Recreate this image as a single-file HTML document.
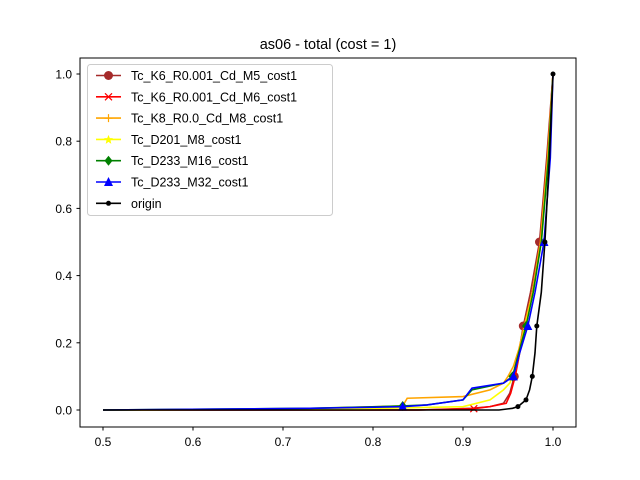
<!DOCTYPE html>
<html><head><meta charset="utf-8"><style>
body{margin:0;background:#fff}svg{display:block;font-family:"Liberation Sans","DejaVu Sans",sans-serif}
</style></head><body>
<svg id="chart" width="640" height="480">
<rect x="0" y="0" width="640" height="480" fill="#fff"/>
<text x="328" y="49" font-size="14.5" text-anchor="middle">as06 - total (cost = 1)</text>
<g id="plot"></g>
<rect x="80" y="58" width="496" height="369" fill="none" stroke="#000" stroke-width="1"/>
<g id="axes"></g>
<g id="legend"></g>
</svg>
<script>
const xTicks=[0.5,0.6,0.7,0.8,0.9,1.0];
const yTicks=[0.0,0.2,0.4,0.6,0.8,1.0];
const seriesNames=["Tc_K6_R0.001_Cd_M5_cost1","Tc_K6_R0.001_Cd_M6_cost1","Tc_K8_R0.0_Cd_M8_cost1","Tc_D201_M8_cost1","Tc_D233_M16_cost1","Tc_D233_M32_cost1","origin"];
const seriesColors=["#a52a2a","#ff0000","#ffa500","#ffff00","#008000","#0000ff","#000000"];
const seriesMarkers=["circle","x","plus","star","diamond","triangle","dot"];
const brownX=[0.5,0.85,0.91,0.93,0.945,0.952,0.957,0.962,0.967,0.975,0.985,0.993,1.0];
const brownY=[0,0,0.005,0.01,0.02,0.05,0.1,0.17,0.25,0.35,0.5,0.75,1.0];
const brownM=[10,8,6];
const redX=[0.5,0.85,0.912,0.93,0.948,0.953,0.958,0.963,0.968,0.977,0.986,0.994,1.0];
const redY=[0,0,0.004,0.01,0.02,0.05,0.1,0.17,0.25,0.35,0.5,0.75,1.0];
const redM=[2];
const orangeX=[0.5,0.7,0.833,0.838,0.9,0.93,0.945,0.95,0.956,0.962,0.968,0.977,0.986,0.994,1.0];
const orangeY=[0,0.002,0.012,0.035,0.04,0.06,0.08,0.1,0.13,0.18,0.25,0.35,0.5,0.75,1.0];
const orangeM=[];
const yellowX=[0.5,0.75,0.9,0.93,0.945,0.952,0.958,0.963,0.969,0.978,0.987,0.995,1.0];
const yellowY=[0,0.002,0.01,0.03,0.06,0.08,0.12,0.17,0.25,0.35,0.5,0.75,1.0];
const yellowM=[];
const greenX=[0.5,0.73,0.833,0.86,0.9,0.91,0.945,0.955,0.962,0.97,0.978,0.987,0.995,1.0];
const greenY=[0,0.005,0.012,0.015,0.03,0.06,0.08,0.1,0.17,0.25,0.35,0.5,0.75,1.0];
const greenM=[2,7,9];
const blueX=[0.5,0.73,0.833,0.86,0.9,0.91,0.945,0.956,0.963,0.972,0.98,0.99,0.997,1.0];
const blueY=[0,0.005,0.01,0.015,0.03,0.065,0.08,0.1,0.17,0.25,0.35,0.5,0.75,1.0];
const blueM=[2,7,9,11];
const originX=[0.5,0.83,0.94,0.955,0.961,0.97,0.974,0.977,0.98,0.982,0.987,0.991,0.996,1.0];
const originY=[0,0,0,0.005,0.01,0.03,0.06,0.1,0.17,0.25,0.35,0.5,0.75,1.0];
const originM=[4,5,7,9,11,13];
const allX=[brownX,redX,orangeX,yellowX,greenX,blueX,originX];
const allY=[brownY,redY,orangeY,yellowY,greenY,blueY,originY];
const allM=[brownM,redM,orangeM,yellowM,greenM,blueM,originM];
const NS="http://www.w3.org/2000/svg";
function sx(v){return 103+(v-0.5)*900;}
function sy(v){return 410-v*336;}
function mk(tag,attrs){const e=document.createElementNS(NS,tag);for(const k in attrs)e.setAttribute(k,attrs[k]);return e;}
function marker(type,x,y,c){
 let e;
 if(type==="circle")e=mk("circle",{cx:x,cy:y,r:4.5,fill:c});
 else if(type==="dot")e=mk("circle",{cx:x,cy:y,r:2.5,fill:c});
 else if(type==="diamond")e=mk("polygon",{points:`${x},${y-5} ${x+4},${y} ${x},${y+5} ${x-4},${y}`,fill:c});
 else if(type==="triangle")e=mk("polygon",{points:`${x},${y-5} ${x+4.5},${y+4} ${x-4.5},${y+4}`,fill:c});
 else if(type==="x")e=mk("path",{d:`M${x-3.5},${y-3.5}L${x+3.5},${y+3.5}M${x-3.5},${y+3.5}L${x+3.5},${y-3.5}`,stroke:c,"stroke-width":1.2,fill:"none"});
 else if(type==="plus")e=mk("path",{d:`M${x-4},${y}L${x+4},${y}M${x},${y-4}L${x},${y+4}`,stroke:c,"stroke-width":1.2,fill:"none"});
 else e=mk("polygon",{points:`${x},${y-4.5} ${x+1.3},${y-1.3} ${x+4.5},${y-1.3} ${x+2},${y+1} ${x+2.8},${y+4.5} ${x},${y+2.5} ${x-2.8},${y+4.5} ${x-2},${y+1} ${x-4.5},${y-1.3} ${x-1.3},${y-1.3}`,fill:c});
 return e;
}
const plot=document.getElementById("plot");
for(let s=0;s<seriesNames.length;s++){
 const g=mk("g",{});
 
 
 const pts=allX[s].map((v,i)=>sx(v)+","+sy(allY[s][i])).join(" ");
 const pl=mk("polyline",{points:pts,fill:"none",stroke:seriesColors[s],"stroke-width":1.6});
 
 
 g.appendChild(pl);
 allM[s].forEach(i=>{const m=marker(seriesMarkers[s],sx(allX[s][i]),sy(allY[s][i]),seriesColors[s]);
  
  
  g.appendChild(m);});
 plot.appendChild(g);
}
const axes=document.getElementById("axes");
xTicks.forEach(t=>{const x=sx(t);
 const l=mk("line",{x1:x,y1:427,x2:x,y2:430.5,stroke:"#000"});
 
 
 axes.appendChild(l);
 const tx=mk("text",{x:x,y:446,"font-size":12,"text-anchor":"middle"});tx.textContent=t.toFixed(1);
 
 
 axes.appendChild(tx);});
yTicks.forEach(t=>{const y=sy(t);
 const l=mk("line",{x1:76.5,y1:y,x2:80,y2:y,stroke:"#000"});
 
 
 axes.appendChild(l);
 const tx=mk("text",{x:72,y:y+4.5,"font-size":12,"text-anchor":"end"});tx.textContent=t.toFixed(1);
 
 
 axes.appendChild(tx);});
const lg=document.getElementById("legend");


const box=mk("rect",{x:87.5,y:64.5,width:245,height:151,rx:3,fill:"#fff","fill-opacity":0.8,stroke:"#ccc"});
lg.appendChild(box);
seriesNames.forEach((n,i)=>{const y=75.5+i*21.3;
 const e=mk("g",{});
 
 
 e.appendChild(mk("line",{x1:96,y1:y,x2:121,y2:y,stroke:seriesColors[i],"stroke-width":1.6}));
 e.appendChild(marker(seriesMarkers[i],108.5,y,seriesColors[i]));
 const t=mk("text",{x:131,y:y+4.5,"font-size":12.5});t.textContent=n;e.appendChild(t);
 lg.appendChild(e);});
</script>
</body></html>
